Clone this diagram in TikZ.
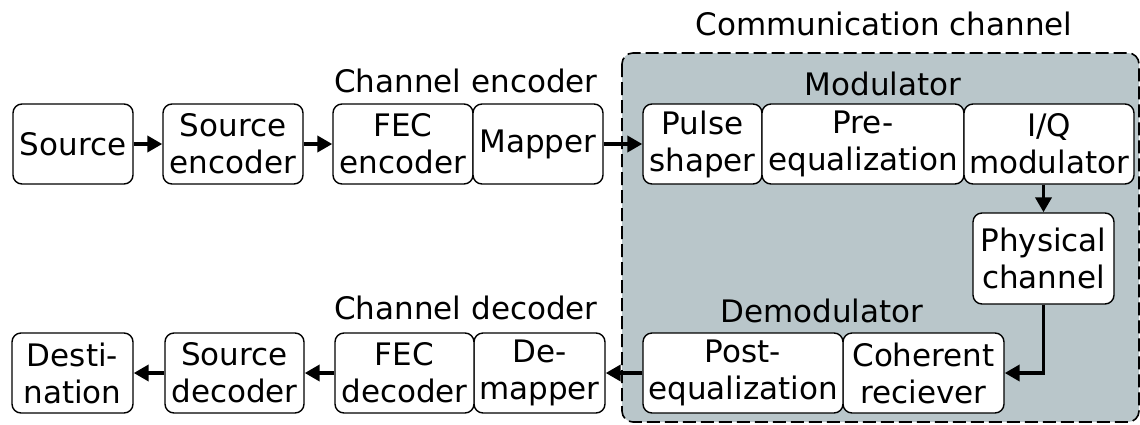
\documentclass[tikz,border=0pt]{standalone}
\usepackage{fontspec}
\setmainfont{DejaVu Sans}
\usetikzlibrary{arrows.meta}
\definecolor{chanfill}{RGB}{185,198,202}
\tikzset{
  blk/.style={draw=black, line width=1.4pt, fill=white, rounded corners=9pt,
    inner sep=0pt, align=center, font=\fontsize{31}{37}\selectfont},
  lbl/.style={anchor=base, inner sep=0pt, font=\fontsize{31}{37}\selectfont},
  arr/.style={line width=3.8pt, -{Triangle[length=15pt,width=16pt]}},
  chan/.style={draw=black, line width=1.6pt, fill=chanfill, rounded corners=11pt,
    dash pattern=on 13pt off 5pt}
}
\begin{document}
\begin{tikzpicture}[x=1pt,y=-1pt]
\useasboundingbox (0,0) rectangle (1140,424);
\draw[chan] (622,53) rectangle (1139,422);
% labels
\node[lbl] (lcc) at (884,35) {Communication channel};
\node[lbl] (lmod) at (883,95) {Modulator};
\node[lbl] (lce) at (466,92) {Channel encoder};
\node[lbl] (lcd) at (466,319) {Channel decoder};
\node[lbl] (ldm) at (822,322) {Demodulator};
% top row
\node[blk, minimum width=120pt, minimum height=80pt] (src) at (73,144) {Source};
\node[blk, minimum width=140pt, minimum height=80pt] (senc) at (233,144) {Source\\encoder};
\node[blk, minimum width=140pt, minimum height=80pt] (fenc) at (403,144) {FEC\\encoder};
\node[blk, minimum width=130pt, minimum height=80pt] (map) at (538,144) {Mapper};
\node[blk, minimum width=119pt, minimum height=80pt] (pulse) at (702.5,144) {Pulse\\shaper};
\node[blk, minimum width=202pt, minimum height=80pt] (pre) at (863,144) {Pre-\\equalization};
\node[blk, minimum width=170pt, minimum height=80pt] (iq) at (1049,144) {I/Q\\modulator};
% right column
\node[blk, minimum width=141pt, minimum height=91pt] (phys) at (1043.5,258.5) {Physical\\channel};
% bottom row
\node[blk, minimum width=161pt, minimum height=80pt] (coh) at (923.5,373) {Coherent\\reciever};
\node[blk, minimum width=200pt, minimum height=80pt] (post) at (743,373) {Post-\\equalization};
\node[blk, minimum width=131pt, minimum height=80pt] (dmap) at (539.5,373) {De-\\mapper};
\node[blk, minimum width=139pt, minimum height=80pt] (fdec) at (404.5,373) {FEC\\decoder};
\node[blk, minimum width=139pt, minimum height=80pt] (sdec) at (234.5,373) {Source\\decoder};
\node[blk, minimum width=121pt, minimum height=80pt] (dest) at (72.5,373) {Desti-\\nation};
% arrows
\draw[arr] (src.east) -- (senc.west);
\draw[arr] (senc.east) -- (fenc.west);
\draw[arr] (map.east) -- (pulse.west);
\draw[arr] (phys.north |- iq.south) -- (phys.north);
\draw[arr] (phys.south) |- (coh.east);
\draw[arr] (post.west) -- (dmap.east);
\draw[arr] (fdec.west) -- (sdec.east);
\draw[arr] (sdec.west) -- (dest.east);
\end{tikzpicture}
\end{document}
